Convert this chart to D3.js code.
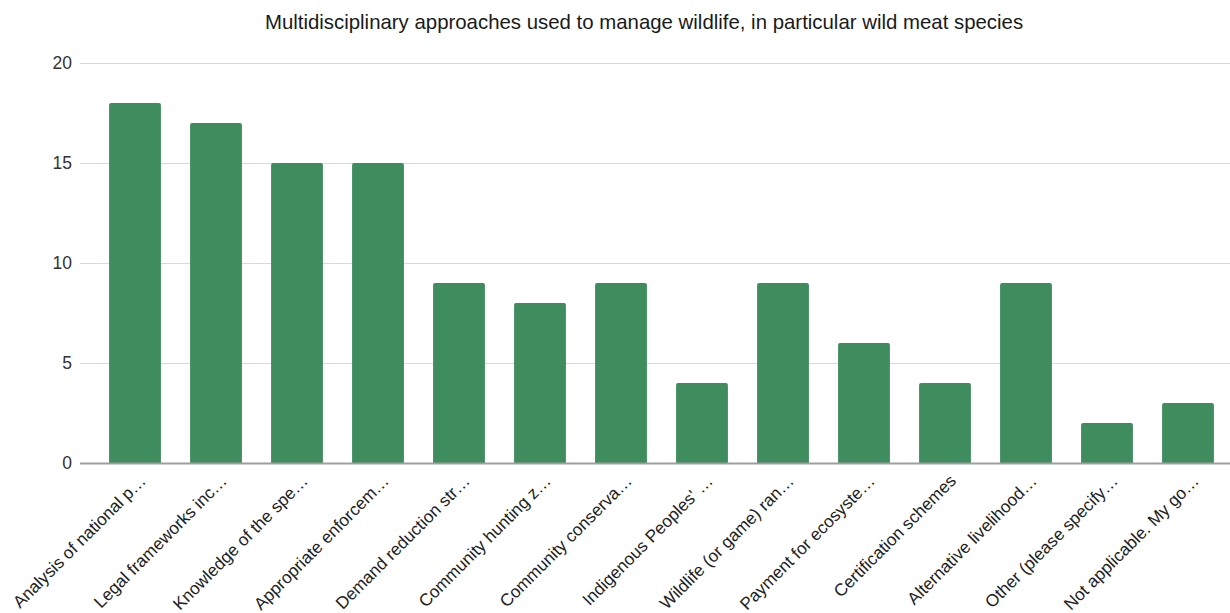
<!DOCTYPE html>
<html>
<head>
<meta charset="utf-8">
<script src="https://cdn.jsdelivr.net/npm/d3@7"></script>
<style>
  html, body { margin: 0; padding: 0; background: #fff; }
  svg { display: block; font-family: "Liberation Sans", Arial, sans-serif; }
</style>
</head>
<body>
<svg id="chart" width="1230" height="613"></svg>
<script>
const title = "Multidisciplinary approaches used to manage wildlife, in particular wild meat species";
const categories = [
  "Analysis of national p…",
  "Legal frameworks inc…",
  "Knowledge of the spe…",
  "Appropriate enforcem…",
  "Demand reduction str…",
  "Community hunting z…",
  "Community conserva…",
  "Indigenous Peoples' …",
  "Wildlife (or game) ran…",
  "Payment for ecosyste…",
  "Certification schemes",
  "Alternative livelihood…",
  "Other (please specify…",
  "Not applicable. My go…"
];
const counts = [18, 17, 15, 15, 9, 8, 9, 4, 9, 6, 4, 9, 2, 3];
const yTicks = [0, 5, 10, 15, 20];

const svg = d3.select("#chart");
const margin = { left: 80 };
const W = 1230;

const x = d3.scaleBand()
  .domain(categories)
  .range([94.5, 1228.5])
  .paddingInner(0.36)
  .paddingOuter(0.18);

const y = d3.scaleLinear().domain([0, 20]).range([463, 63]);

svg.append("text")
  .attr("x", 644).attr("y", 29)
  .attr("text-anchor", "middle")
  .attr("font-size", 20.4)
  .attr("fill", "#1a1a1a")
  .text(title);

// gridlines and y labels
const yAxis = d3.axisLeft(y).tickValues(yTicks).tickSize(-(W - margin.left)).tickPadding(8);
const gy = svg.append("g").attr("transform", `translate(${margin.left},0)`).call(yAxis);
gy.select(".domain").remove();
gy.selectAll(".tick line").attr("stroke", "#d9d9d9").attr("stroke-width", 1);
gy.selectAll(".tick text")
  .attr("font-size", 17.5).attr("fill", "#333")
  .attr("font-family", "Liberation Sans, Arial, sans-serif");

// bars with slightly rounded tops
const r = 2;
svg.append("g").selectAll("path")
  .data(categories.map((c, i) => ({ c, v: counts[i] })))
  .join("path")
  .attr("fill", "#3f8c5f")
  .attr("d", d => {
    const x0 = x(d.c), x1 = x0 + x.bandwidth();
    const yt = y(d.v), yb = y(0);
    return `M${x0},${yb}V${yt + r}Q${x0},${yt} ${x0 + r},${yt}H${x1 - r}Q${x1},${yt} ${x1},${yt + r}V${yb}Z`;
  });

// baseline
svg.append("line")
  .attr("x1", margin.left).attr("x2", W)
  .attr("y1", y(0) + 0.5).attr("y2", y(0) + 0.5)
  .attr("stroke", "#9e9e9e").attr("stroke-width", 2);

// category labels
const xAxis = d3.axisBottom(x).tickSize(0).tickPadding(0);
const gx = svg.append("g").attr("transform", `translate(0,${y(0)})`).call(xAxis);
gx.select(".domain").remove();
gx.selectAll(".tick text")
  .attr("font-size", 17.2).attr("fill", "#222")
  .attr("font-family", "Liberation Sans, Arial, sans-serif")
  .attr("text-anchor", "end")
  .attr("dy", 0)
  .attr("transform", "translate(12,19) rotate(-45)");
</script>
</body>
</html>
